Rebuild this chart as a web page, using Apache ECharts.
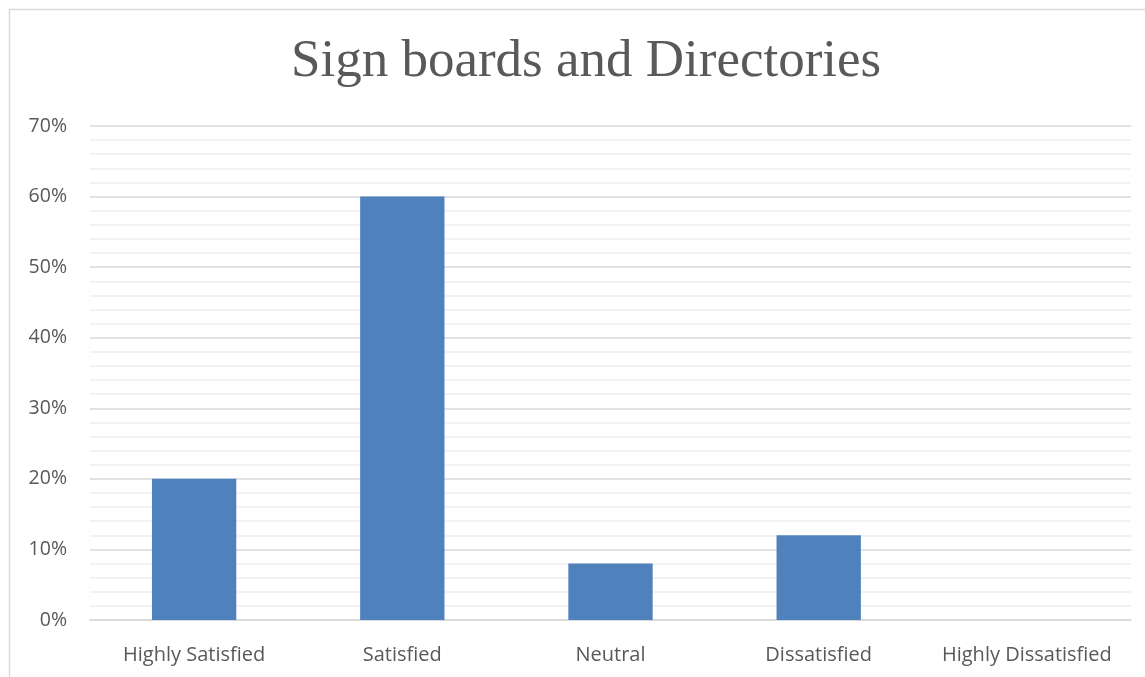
<!DOCTYPE html>
<html>
<head>
<meta charset="utf-8">
<script src="https://cdn.jsdelivr.net/npm/echarts@6/dist/echarts.min.js"></script>
<style>html,body{margin:0;padding:0;background:#fff;}#chart{width:1145px;height:677px;}</style>
</head>
<body>
<div id="chart"></div>
<script>
const titleText = 'Sign boards and Directories';
const categories = ['Highly Satisfied', 'Satisfied', 'Neutral', 'Dissatisfied', 'Highly Dissatisfied'];
const values = [20, 60, 8, 12, 0];
const yTicks = { min: 0, max: 70, interval: 10 };

const chart = echarts.init(document.getElementById('chart'));
chart.setOption({
  animation: false,
  backgroundColor: '#fff',
  title: {
    text: titleText,
    left: 286,
    top: 31,
    textStyle: { fontFamily: 'Liberation Serif', fontSize: 53, fontWeight: 'normal', color: '#595959' }
  },
  graphic: [{
    type: 'rect',
    shape: { x: 9.5, y: 9.5, width: 1300, height: 800 },
    style: { fill: 'none', stroke: '#d9d9d9', lineWidth: 1.5 },
    silent: true
  }],
  grid: { left: 90, right: 14, top: 126, bottom: 57 },
  xAxis: {
    type: 'category',
    data: categories,
    axisTick: { show: false },
    axisLine: { lineStyle: { color: '#d9d9d9', width: 1.5 } },
    axisLabel: { interval: 0, hideOverlap: false, color: '#595959', fontFamily: 'Open Sans', fontSize: 20, margin: 25 }
  },
  yAxis: {
    type: 'value',
    min: yTicks.min, max: yTicks.max, interval: yTicks.interval,
    axisLine: { show: false },
    axisTick: { show: false },
    axisLabel: { formatter: '{value}%', color: '#595959', fontFamily: 'Open Sans', fontSize: 19.5, margin: 23 },
    splitLine: { lineStyle: { color: '#d9d9d9', width: 1.5 } },
    minorTick: { show: false, splitNumber: 5 },
    minorSplitLine: { show: true, lineStyle: { color: '#eeeeee', width: 1.5 } }
  },
  series: [{
    type: 'bar',
    data: values,
    barWidth: '40.5%',
    itemStyle: { color: '#4f81bd' }
  }]
});
</script>
</body>
</html>
